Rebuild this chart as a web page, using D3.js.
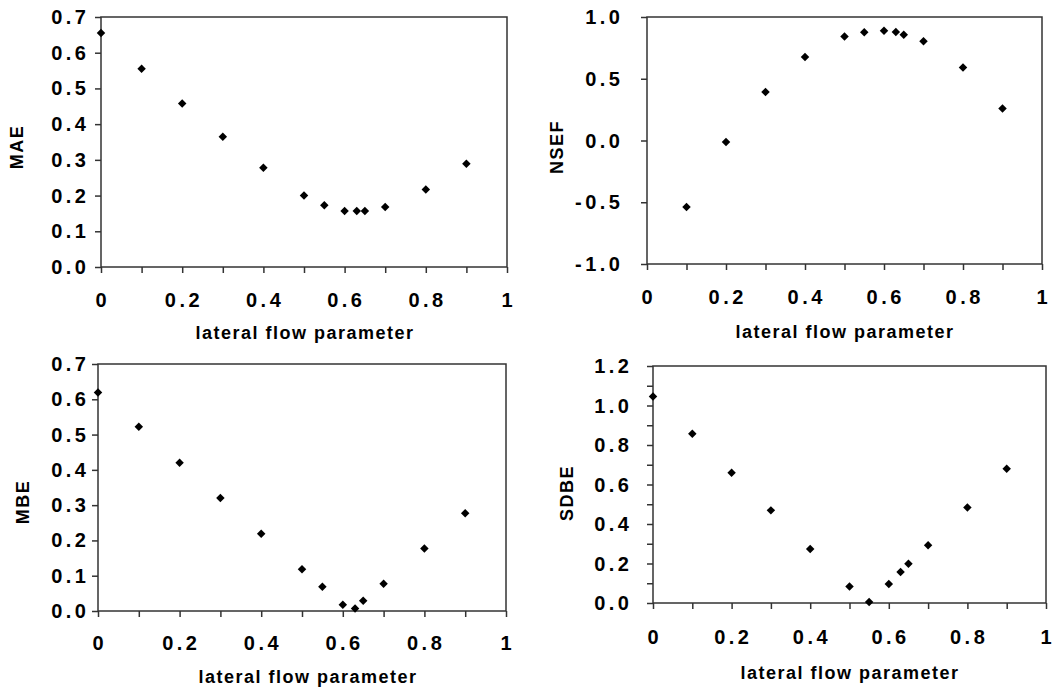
<!DOCTYPE html>
<html>
<head>
<meta charset="utf-8">
<script src="https://cdn.jsdelivr.net/npm/d3@7"></script>
<style>
	body { margin: 0; background: #fff; }
	text { font-family: "Liberation Sans", Arial, sans-serif; font-weight: bold; fill: #000; }
</style>
</head>
<body>
<svg id="chart" width="1059" height="690"></svg>
<script>
// lateral flow parameter values
var lfp = [0, 0.1, 0.2, 0.3, 0.4, 0.5, 0.55, 0.6, 0.63, 0.65, 0.7, 0.8, 0.9];
var lfpNsef = [0.1, 0.2, 0.3, 0.4, 0.5, 0.55, 0.6, 0.63, 0.65, 0.7, 0.8, 0.9];

var mae  = [0.655, 0.555, 0.458, 0.365, 0.278, 0.200, 0.173, 0.157, 0.157, 0.157, 0.168, 0.217, 0.289];
var nsef = [-0.538, -0.012, 0.393, 0.676, 0.843, 0.876, 0.889, 0.879, 0.857, 0.803, 0.592, 0.260];
var mbe  = [0.619, 0.522, 0.420, 0.320, 0.219, 0.118, 0.069, 0.018, 0.007, 0.029, 0.077, 0.177, 0.277];
var sdbe = [1.046, 0.857, 0.660, 0.469, 0.273, 0.084, 0.005, 0.096, 0.157, 0.199, 0.292, 0.484, 0.680];

var xTicks = [0, 0.2, 0.4, 0.6, 0.8, 1];
var maeTicks = [0, 0.1, 0.2, 0.3, 0.4, 0.5, 0.6, 0.7];
var nsefTicks = [-1, -0.5, 0, 0.5, 1];
var mbeTicks = [0, 0.1, 0.2, 0.3, 0.4, 0.5, 0.6, 0.7];
var sdbeTicks = [0, 0.2, 0.4, 0.6, 0.8, 1, 1.2];

var xTitle = "lateral flow parameter";

var svg = d3.select("#chart");
var ls = 3.5; // tick label letter spacing

function fmt1(d) {
	return d3.format(".1f")(d).replace("\u2212", "-");
}

function drawPanel(p) {
	var g = svg.append("g");

	var x = d3.scaleLinear().domain([0, 1]).range([p.left, p.right]);
	var y = d3.scaleLinear().domain(p.yDomain).range([p.bottom, p.top]);

	// minor ticks every 0.1 on x
	var xAxis = d3.axisBottom(x).tickValues(d3.range(0, 1.0001, 0.1))
		.tickSize(6).tickFormat("");
	g.append("g").attr("transform", "translate(0," + p.bottom + ")").call(xAxis);

	var yAxis = d3.axisLeft(y).tickValues(p.yMinor)
		.tickSize(6).tickFormat("");
	g.append("g").attr("transform", "translate(" + p.left + ",0)").call(yAxis);

	g.selectAll(".domain").remove();
	g.selectAll(".tick line").attr("stroke", "#333").attr("stroke-width", 1.5);

	// box
	g.append("rect")
	.attr("x", p.left)
	.attr("y", p.top)
	.attr("width", p.right - p.left)
	.attr("height", p.bottom - p.top)
	.style("fill", "none")
	.style("stroke", "#333")
	.style("stroke-width", 1.5);

	// tick labels
	g.selectAll(".xlab").data(xTicks).enter().append("text")
	.attr("x", function (d) { return x(d) + ls / 2; })
	.attr("y", p.bottom + p.xLabOff)
	.style("text-anchor", "middle")
	.style("font-size", "20px")
	.style("letter-spacing", ls + "px")
	.text(function (d) { return d3.format("")(d); });

	g.selectAll(".ylab").data(p.yTicks).enter().append("text")
	.attr("x", p.left - p.yLabOff + ls)
	.attr("y", function (d) { return y(d) + 7; })
	.style("text-anchor", "end")
	.style("font-size", "20px")
	.style("letter-spacing", ls + "px")
	.text(fmt1);

	// titles
	g.append("text")
	.attr("x", p.xTitleX)
	.attr("y", p.xTitleY)
	.style("text-anchor", "middle")
	.style("font-size", "18px")
	.style("letter-spacing", "1.5px")
	.text(xTitle);

	g.append("text")
	.attr("transform", "translate(" + p.yTitleX + "," + p.yTitleY + ") rotate(-90)")
	.style("text-anchor", "middle")
	.style("font-size", "18px")
	.style("letter-spacing", "1.5px")
	.text(p.yTitle);

	// points
	var diamond = d3.symbol().type(d3.symbolSquare).size(36);
	g.selectAll(".pt").data(p.ys).enter().append("path")
	.attr("d", diamond)
	.attr("transform", function (d, i) {
		return "translate(" + x(p.xs[i]) + "," + y(d) + ") rotate(45)";
	})
	.style("fill", "#000");
}

drawPanel({
	left: 101, right: 507, top: 17, bottom: 267,
	yDomain: [0, 0.7], yTicks: maeTicks, yMinor: maeTicks,
	xs: lfp, ys: mae, yTitle: "MAE",
	xLabOff: 40, yLabOff: 15,
	xTitleX: 305, xTitleY: 339, yTitleX: 23, yTitleY: 147
});

drawPanel({
	left: 647, right: 1042, top: 17, bottom: 264,
	yDomain: [-1, 1], yTicks: nsefTicks, yMinor: nsefTicks,
	xs: lfpNsef, ys: nsef, yTitle: "NSEF",
	xLabOff: 40, yLabOff: 27,
	xTitleX: 845, xTitleY: 338, yTitleX: 563, yTitleY: 147
});

drawPanel({
	left: 98, right: 506, top: 364, bottom: 611,
	yDomain: [0, 0.7], yTicks: mbeTicks, yMinor: mbeTicks,
	xs: lfp, ys: mbe, yTitle: "MBE",
	xLabOff: 39, yLabOff: 12,
	xTitleX: 308, xTitleY: 683, yTitleX: 29, yTitleY: 502
});

drawPanel({
	left: 653, right: 1046, top: 366, bottom: 603,
	yDomain: [0, 1.2], yTicks: sdbeTicks, yMinor: d3.range(0, 1.2001, 0.1),
	xs: lfp, ys: sdbe, yTitle: "SDBE",
	xLabOff: 41, yLabOff: 24,
	xTitleX: 850, xTitleY: 679, yTitleX: 573, yTitleY: 493
});
</script>
</body>
</html>
